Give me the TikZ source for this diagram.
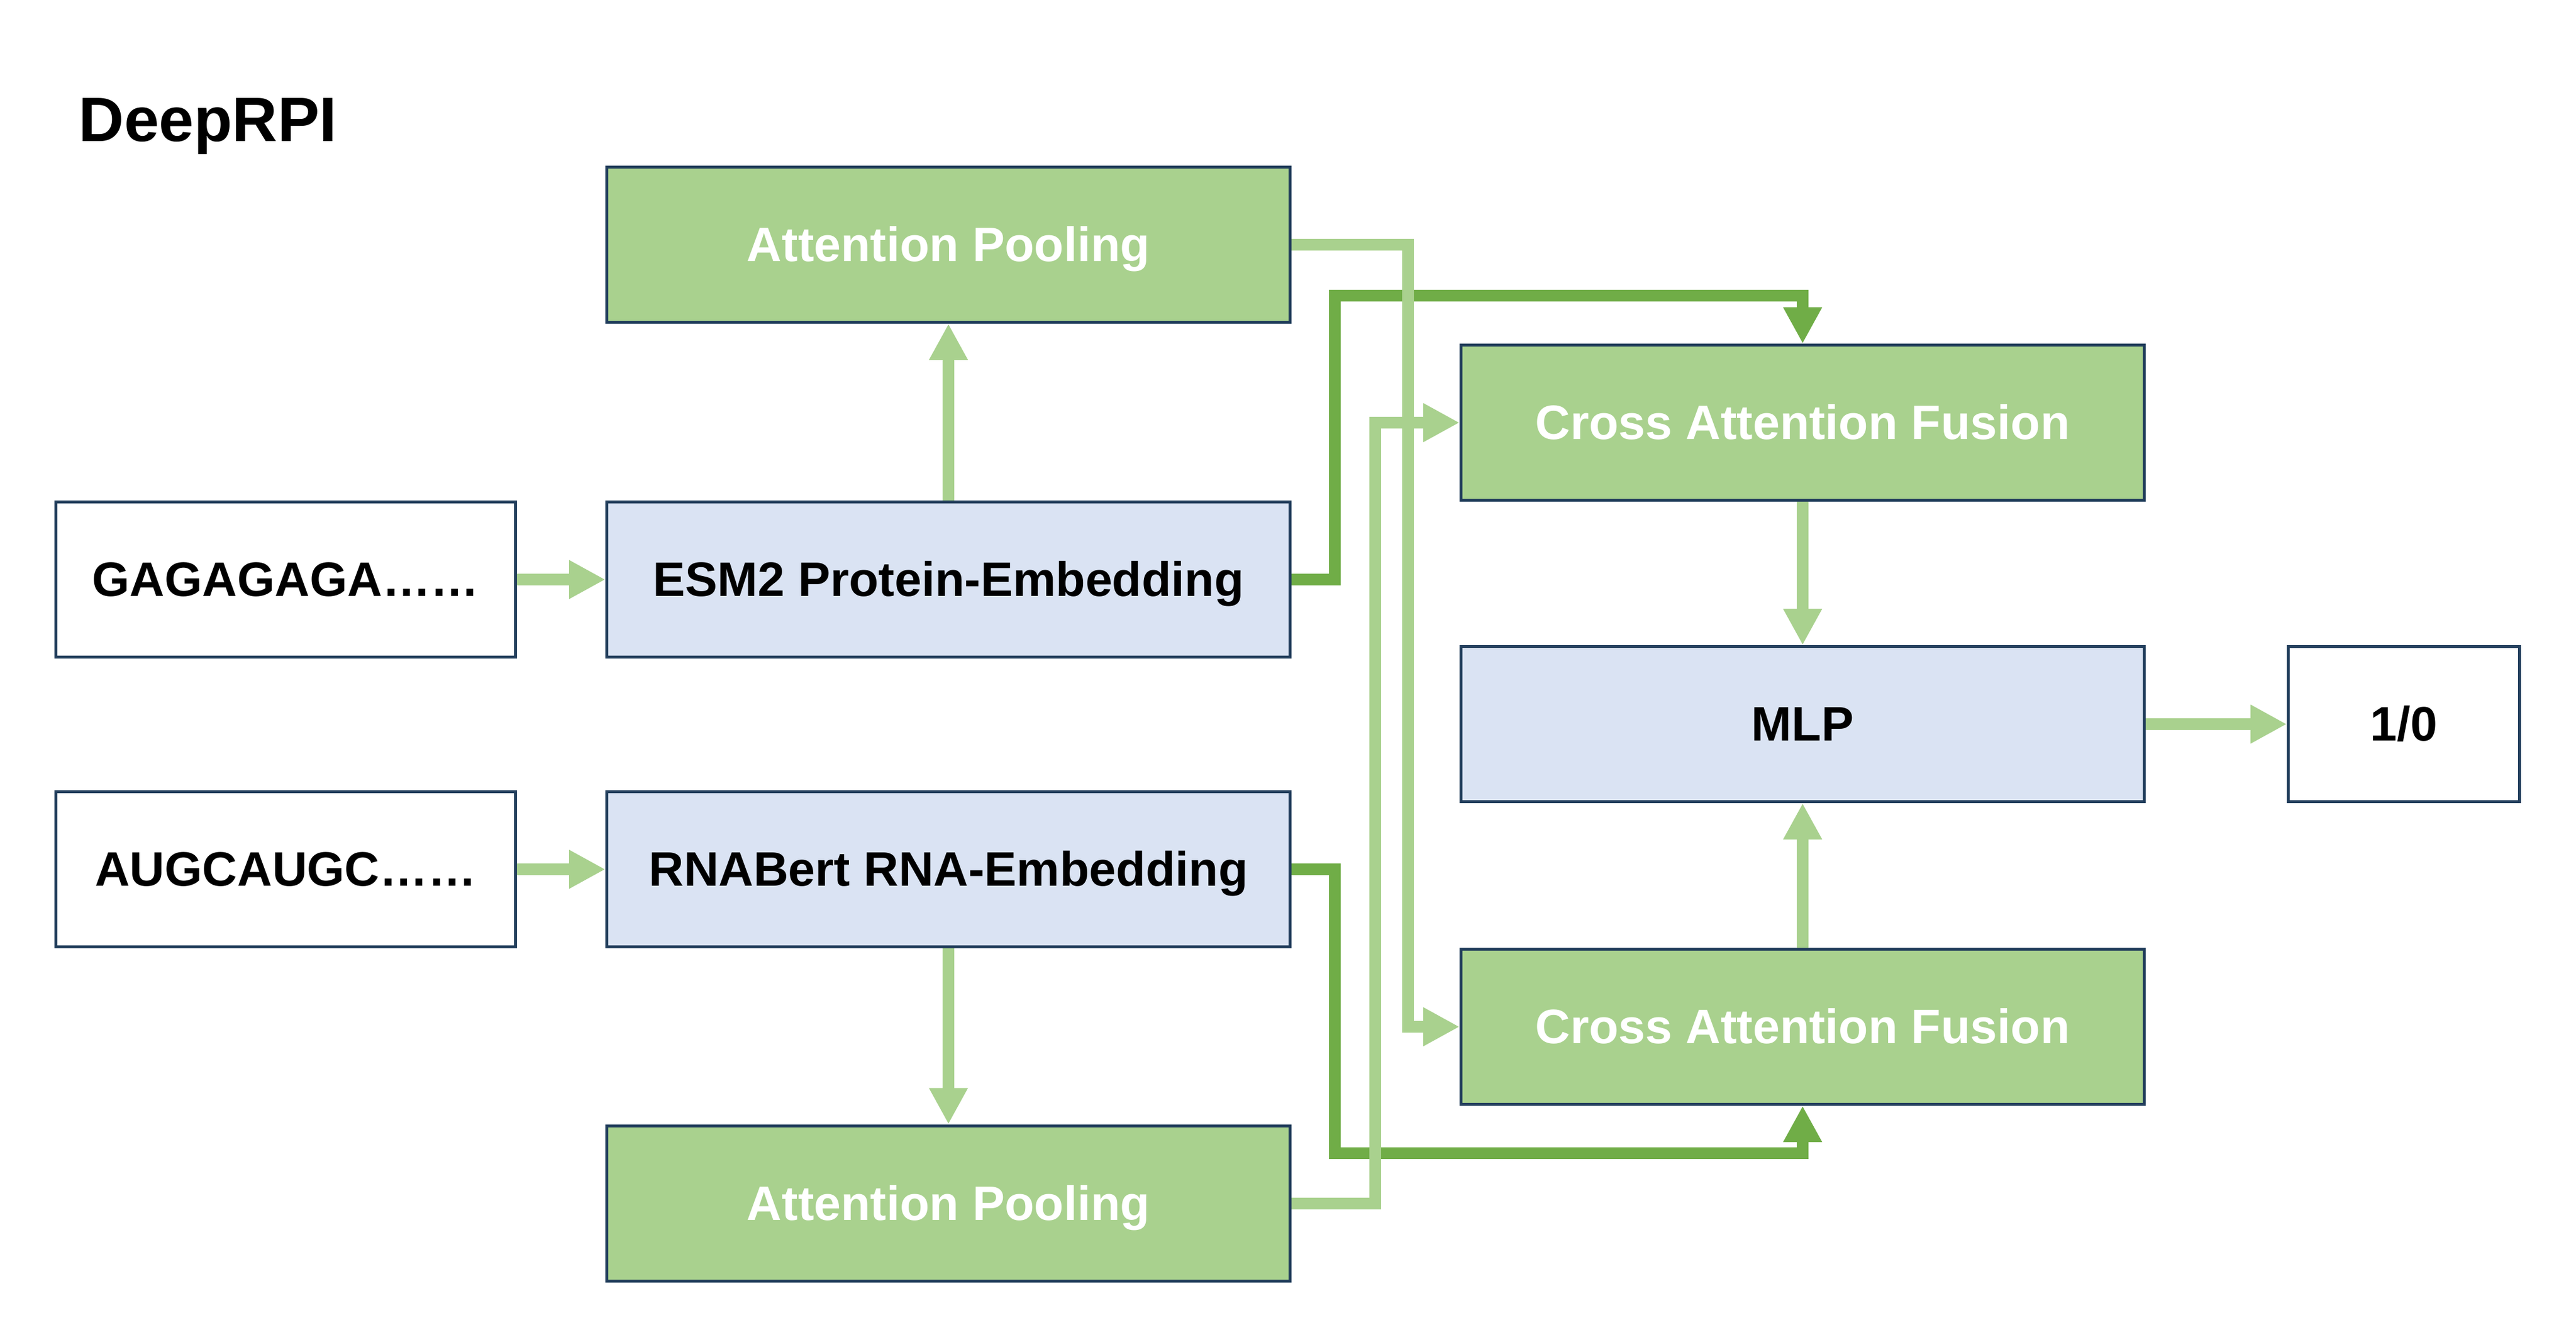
\documentclass[tikz,border=0pt]{standalone}
\usepackage{fontspec}
\setmainfont{Liberation Sans}
\usepackage{tikz}
\usetikzlibrary{arrows.meta}

\definecolor{boxline}{HTML}{223E5C}
\definecolor{lightgreen}{HTML}{A9D18E}
\definecolor{darkgreen}{HTML}{70AD47}
\definecolor{paleblue}{HTML}{DAE3F3}

\tikzset{
  block/.style={draw=boxline, line width=0.05cm, minimum width=11.67cm, minimum height=2.65cm,
    inner sep=0pt, text height=21.3pt, text depth=5pt, font=\fontsize{23.5}{28}\selectfont\bfseries},
  poolbox/.style={block, fill=lightgreen, text=white},
  embbox/.style={block, fill=paleblue},
  seqbox/.style={block, fill=white, minimum width=7.85cm},
  lflow/.style={draw=lightgreen, line width=0.2cm, -{Triangle[length=0.62cm,width=0.62cm]}},
  dflow/.style={draw=darkgreen, line width=0.2cm, -{Triangle[length=0.62cm,width=0.62cm]}},
}

\begin{document}
\begin{tikzpicture}
    \useasboundingbox (0,0) rectangle (44,22.71);

    % Title
    \node[anchor=base west, inner sep=0pt, font=\fontsize{30.5}{36}\selectfont\bfseries] (title) at (1.34,20.29) {DeepRPI};

    % Inputs
    \node[seqbox] (gaga) at (4.88,12.81) {GAGAGAGA……};
    \node[seqbox] (augc) at (4.88,7.86) {AUGCAUGC……};

    % Embeddings
    \node[embbox] (esm) at (16.20,12.81) {ESM2 Protein-Embedding};
    \node[embbox] (rnabert) at (16.20,7.86) {RNABert RNA-Embedding};

    % Pooling
    \node[poolbox] (pooltop) at (16.20,18.53) {Attention Pooling};
    \node[poolbox] (poolbot) at (16.20,2.155) {Attention Pooling};

    % Fusion + MLP
    \node[poolbox] (crosstop) at (30.79,15.49) {Cross Attention Fusion};
    \node[embbox] (mlp) at (30.79,10.34) {MLP};
    \node[poolbox] (crossbot) at (30.79,5.17) {Cross Attention Fusion};
    \node[seqbox, minimum width=3.95cm] (out) at (41.06,10.34) {1/0};

    % Bend points
    \coordinate (esmturn) at (22.80,17.66);
    \coordinate (rnaturn) at (22.80,3.01);
    \coordinate (topdrop) at (24.05,5.17);
    \coordinate (botrise) at (23.49,15.49);

    % Embeddings to fusion (dark)
    \draw[dflow] (esm.east) -| (esmturn) -| (crosstop.north);
    \draw[dflow] (rnabert.east) -| (rnaturn) -| (crossbot.south);

    % Straight light arrows
    \draw[lflow] (gaga) -- (esm);
    \draw[lflow] (augc) -- (rnabert);
    \draw[lflow] (esm) -- (pooltop);
    \draw[lflow] (rnabert) -- (poolbot);
    \draw[lflow] (crosstop) -- (mlp);
    \draw[lflow] (crossbot) -- (mlp);
    \draw[lflow] (mlp) -- (out);

    % Pooling to fusion (light)
    \draw[lflow] (pooltop.east) -| (topdrop) -- (crossbot.west);
    \draw[lflow] (poolbot.east) -| (botrise) -- (crosstop.west);

\end{tikzpicture}
\end{document}
